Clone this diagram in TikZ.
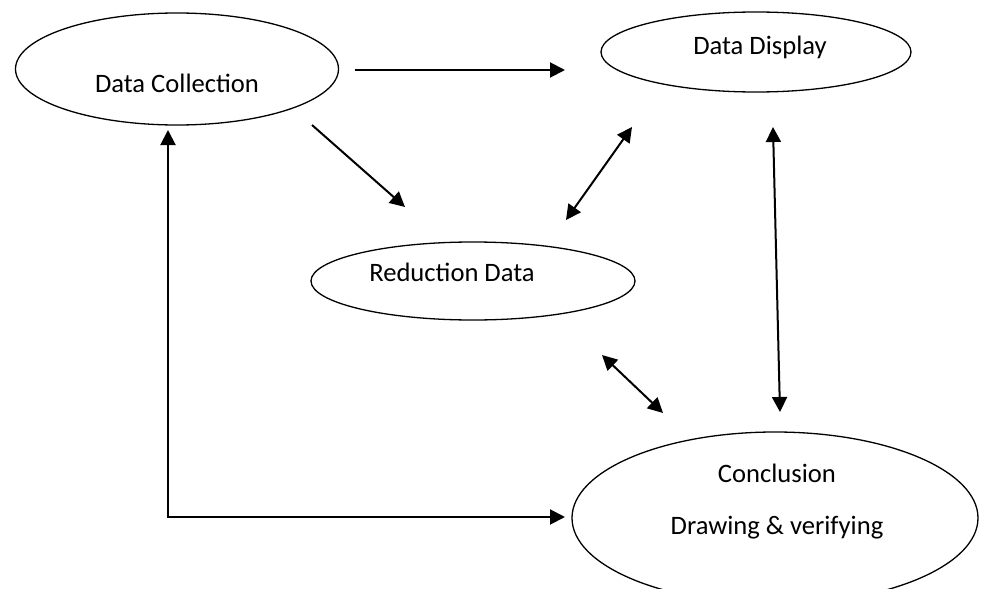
\documentclass[tikz,border=0pt]{standalone}
\usepackage{fontspec}
\setmainfont{Carlito}
\usetikzlibrary{shapes.geometric, arrows.meta}
\tikzset{
    base/.style={
        font=\fontsize{13.3}{16}\selectfont,
        align=center
    },
    stage/.style={
        ellipse,
        draw=black,
        line width=0.65pt,
        inner sep=0pt
    },
    caption/.style={
        base,
        inner sep=0pt
    },
    flow/.style={
        -{Triangle[length=7.5pt, width=7.5pt]},
        line width=1pt
    },
    twoway/.style={
        {Triangle[length=7.5pt, width=7.5pt]}-{Triangle[length=7.5pt, width=7.5pt]},
        line width=1pt
    }
}

\begin{document}
\begin{tikzpicture}[x=0.5pt, y=-0.5pt]
    \useasboundingbox (0,0) rectangle (982,589);

    % Stages
    \node[stage, minimum width=161.5pt, minimum height=56pt] (collect) at (177,69) {};
    \node[stage, minimum width=155pt, minimum height=40pt] (display) at (756,52) {};
    \node[stage, minimum width=162pt, minimum height=39pt] (reduce) at (473,281) {};
    \node[stage, minimum width=203pt, minimum height=86pt] (conclude) at (775,518) {};

    % Texts
    \node[caption] (collectTxt) at (177,83) {Data Collection};
    \node[caption] (displayTxt) at (760,47) {Data Display};
    \node[caption] (reduceTxt) at (452,272) {Reduction Data};
    \node[caption] (concludeTxt) at (777,473) {Conclusion};
    \node[caption] (verifyTxt) at (777,528) {Drawing \& verifying};

    % Arrow ends
    \coordinate (c2dA) at (355,70);
    \coordinate (c2dB) at (565,70);
    \coordinate (c2rA) at (312,125);
    \coordinate (c2rB) at (405,207);
    \coordinate (r2dA) at (566,220);
    \coordinate (r2dB) at (632,127);
    \coordinate (r2cA) at (602,355);
    \coordinate (r2cB) at (663,413);
    \coordinate (d2cA) at (773,127);
    \coordinate (d2cB) at (780,412);
    \coordinate (loopA) at (168,130);
    \coordinate (loopB) at (565,517);

    % Arrows
    \draw[flow] (c2dA) -- (c2dB);
    \draw[flow] (c2rA) -- (c2rB);
    \draw[twoway] (r2dA) -- (r2dB);
    \draw[twoway] (r2cA) -- (r2cB);
    \draw[twoway] (d2cA) -- (d2cB);
    \draw[twoway] (loopA) |- (loopB);
\end{tikzpicture}
\end{document}
